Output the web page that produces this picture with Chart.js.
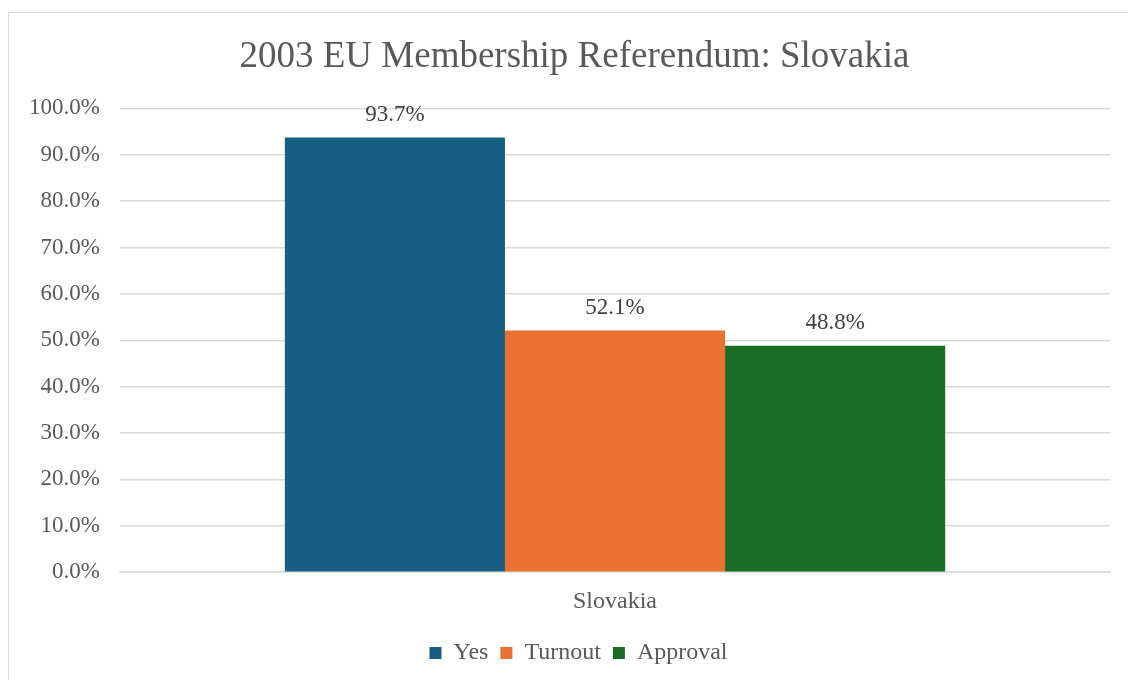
<!DOCTYPE html>
<html>
<head>
    <title>2003 EU Membership Referendum: Slovakia</title>
    <script src="https://cdn.jsdelivr.net/npm/chart.js"></script>
    <style>
        body { margin: 0; background: #fff; overflow: hidden; }
        #frame { position: absolute; left: 8px; top: 12px; width: 1140px; height: 700px; border: 1px solid #d9d9d9; }
        #wrap { position: absolute; left: 0; top: 0; width: 1128px; height: 680px; }
    </style>
</head>
<body>
    <div id="frame"></div>
    <div id="wrap"><canvas id="refChart"></canvas></div>
    <script>
        var categories = ['Slovakia'];
        var seriesNames = ['Yes', 'Turnout', 'Approval'];
        var yesValues = [93.7];
        var turnoutValues = [52.1];
        var approvalValues = [48.8];
        var colors = ['#175F82', '#E97132', '#1A6B24'];

        var serif = "'Liberation Serif', 'Times New Roman', serif";

        // draws the value above each bar
        var valueLabels = {
            id: 'valueLabels',
            afterDatasetsDraw: function(chart) {
                var ctx = chart.ctx;
                ctx.save();
                ctx.font = '23px ' + serif;
                ctx.fillStyle = '#404040';
                ctx.textAlign = 'center';
                ctx.textBaseline = 'middle';
                chart.data.datasets.forEach(function(ds, i) {
                    chart.getDatasetMeta(i).data.forEach(function(bar, j) {
                        ctx.fillText(ds.data[j].toFixed(1) + '%', bar.x, bar.y - 23);
                    });
                });
                ctx.restore();
            }
        };

        // the original frame is wider than the picture, so title and legend sit a bit right
        var shiftBlocks = {
            id: 'shiftBlocks',
            afterLayout: function(chart) {
                chart.titleBlock.left += 9;
                chart.titleBlock.right += 9;
                chart.legend.left += 13;
                chart.legend.right += 13;
            }
        };

        var ctx = document.getElementById('refChart').getContext('2d');
        var chart = new Chart(ctx, {
            type: 'bar',
            data: {
                labels: categories,
                datasets: [
                    { label: seriesNames[0], data: yesValues, backgroundColor: colors[0] },
                    { label: seriesNames[1], data: turnoutValues, backgroundColor: colors[1] },
                    { label: seriesNames[2], data: approvalValues, backgroundColor: colors[2] }
                ]
            },
            options: {
                responsive: true,
                maintainAspectRatio: false,
                animation: false,
                layout: { padding: { left: 21, right: 18, top: 35, bottom: 5 } },
                datasets: { bar: { categoryPercentage: 0.667, barPercentage: 1 } },
                plugins: {
                    title: {
                        display: true,
                        text: '2003 EU Membership Referendum: Slovakia',
                        color: '#595959',
                        font: { family: serif, size: 37, weight: 'normal' },
                        padding: { top: 0, bottom: 29 }
                    },
                    legend: {
                        position: 'bottom',
                        labels: {
                            color: '#595959',
                            font: { family: serif, size: 24 },
                            boxWidth: 12,
                            boxHeight: 12,
                            padding: 12
                        }
                    },
                    tooltip: { enabled: false }
                },
                scales: {
                    x: {
                        grid: { display: false },
                        border: { color: '#d9d9d9', width: 1.5 },
                        ticks: {
                            color: '#595959',
                            font: { family: serif, size: 24 },
                            padding: 7
                        },
                        afterFit: function(scale) { scale.height += 6; }
                    },
                    y: {
                        min: 0,
                        max: 100,
                        border: { display: false },
                        grid: { color: '#d9d9d9', lineWidth: 1.5, drawTicks: false },
                        ticks: {
                            stepSize: 10,
                            color: '#595959',
                            font: { family: serif, size: 23 },
                            padding: 20,
                            callback: function(v) { return v.toFixed(1) + '%'; }
                        },
                        afterFit: function(scale) { scale.width = 99; }
                    }
                }
            },
            plugins: [valueLabels, shiftBlocks]
        });
    </script>
</body>
</html>
